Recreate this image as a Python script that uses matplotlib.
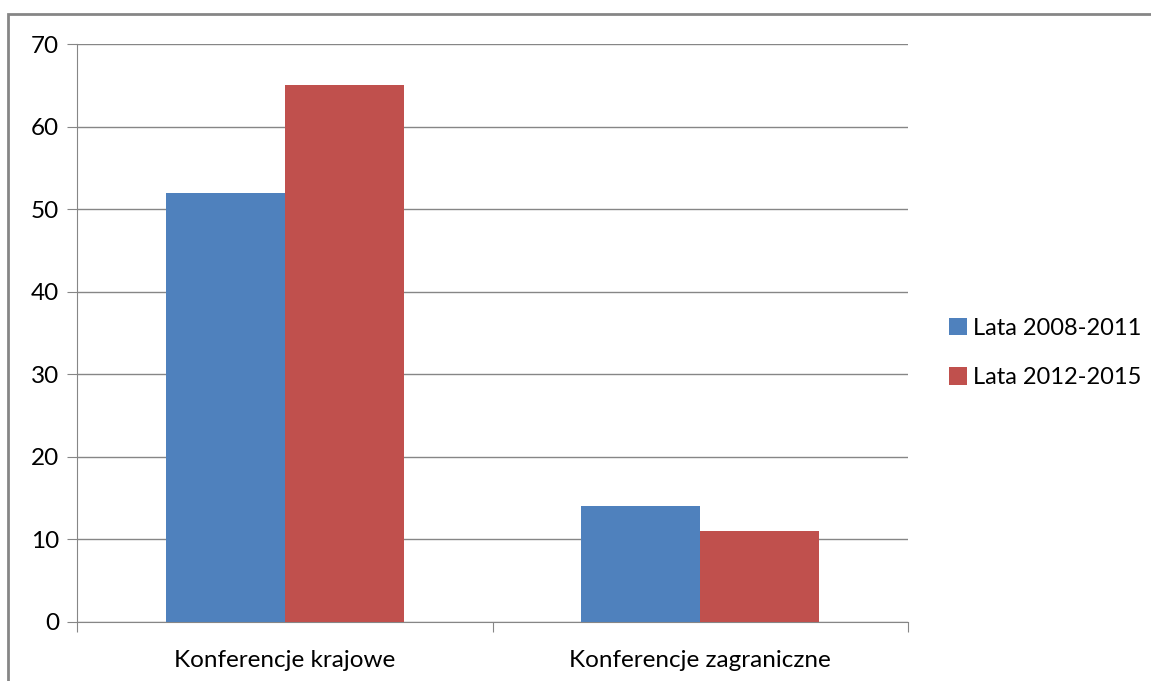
import numpy as np
import matplotlib.pyplot as plt
from matplotlib.patches import Rectangle

categories = ['Konferencje krajowe', 'Konferencje zagraniczne']
series_names = ['Lata 2008-2011', 'Lata 2012-2015']
values_2008 = [52, 14]
values_2012 = [65, 11]
colors = ['#4F81BD', '#C0504D']

plt.rcParams['font.family'] = ['Lato', 'DejaVu Sans']
fs = 17.5

fig = plt.figure(figsize=(11.51, 6.81), dpi=100)
ax = fig.add_axes([77 / 1151, 59 / 681, 831 / 1151, 578 / 681])

x = np.arange(len(categories))
w = 0.286
ax.bar(x - w / 2, values_2008, w, color=colors[0], label=series_names[0], zorder=3)
ax.bar(x + w / 2, values_2012, w, color=colors[1], label=series_names[1], zorder=3)

ax.set_xlim(-0.5, 1.5)
ax.set_ylim(0, 70)
ax.set_yticks(range(0, 71, 10))
ax.yaxis.grid(True, color='#868686', linewidth=1)
ax.set_axisbelow(True)

ax.set_xticks([-0.5, 0.5, 1.5], minor=False)
ax.set_xticklabels([])
ax.set_xticks(x, minor=True)
ax.set_xticklabels(categories, minor=True, fontsize=fs)
ax.tick_params(axis='x', which='minor', length=0, pad=20)
ax.tick_params(axis='x', which='major', length=7, direction='out', color='#868686')
ax.tick_params(axis='y', length=7, direction='out', color='#868686', labelsize=fs, pad=6)

for s in ['top', 'right']:
    ax.spines[s].set_visible(False)
for s in ['left', 'bottom']:
    ax.spines[s].set_color('#868686')

ax.legend(loc='center left', bbox_to_anchor=(949 / 1151, 1 - 353 / 681), bbox_transform=fig.transFigure,
          frameon=False, fontsize=17, borderaxespad=0, borderpad=0,
          handlelength=0.75, handleheight=0.75, handletextpad=0.25, labelspacing=1.2)

fig.add_artist(Rectangle((8 / 1151, -0.1), 1.2, 0.1 + 1 - 14 / 681, transform=fig.transFigure,
                         fill=False, edgecolor='#868686', linewidth=2))

fig.savefig('out.png', dpi=100)
